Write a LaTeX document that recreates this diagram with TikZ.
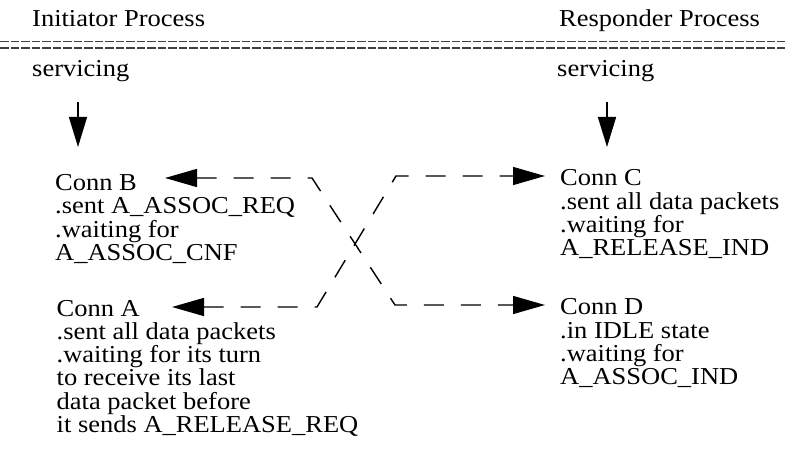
\documentclass[tikz,border=0pt]{standalone}
\usepackage{fontspec}
\setmainfont{Liberation Serif}[FakeStretch=1.09]
\usetikzlibrary{arrows.meta}
\newcommand\blockfont{\fontsize{24.3}{23.3}\selectfont\lineskiplimit=-20pt\relax}
\begin{document}
\begin{tikzpicture}[x=1pt,y=-1pt,
  lbl/.style={anchor=base west, inner sep=0pt, align=left, font=\blockfont},
  down/.style={-{Triangle[length=30pt,width=18pt]}, line width=1.5pt},
  link/.style={{Triangle[length=32pt,width=18pt]}-{Triangle[length=32pt,width=18pt]},
    line width=1.4pt, dash pattern=on 20pt off 17pt},
  rule/.style={line width=1.5pt, black!75, dash pattern=on 8.5pt off 2pt}]
\useasboundingbox (0,0) rectangle (785,454);

% headings and the divider
\node[lbl] (init) at (32,27) {Initiator Process};
\node[lbl] (resp) at (559,27) {Responder Process};
\coordinate (r1a) at (0,41.3);  \coordinate (r1b) at (785,41.3);
\coordinate (r2a) at (0,48);    \coordinate (r2b) at (785,48);
\draw[rule] (r1a) -- (r1b);
\draw[rule] (r2a) -- (r2b);

% servicing states
\node[lbl] (servL) at (32,77) {servicing};
\node[lbl] (servR) at (557,77) {servicing};

% connection blocks (placed by the baseline of their last line)
\node[lbl] (connB) at (55,260.4) {Conn B\\.sent A\_ASSOC\_REQ\\.waiting for\\A\_ASSOC\_CNF};
\node[lbl] (connA) at (56.5,432.5) {Conn A\\.sent all data packets\\.waiting for its turn\\to receive its last\\data packet before\\it sends A\_RELEASE\_REQ};
\node[lbl] (connC) at (560,255.9) {Conn C\\.sent all data packets\\.waiting for\\A\_RELEASE\_IND};
\node[lbl] (connD) at (560,384.9) {Conn D\\.in IDLE state\\.waiting for\\A\_ASSOC\_IND};

% arrow end points
\coordinate (sL) at (78,102);  \coordinate (bTop) at (78,147);
\coordinate (sR) at (607,102); \coordinate (cTop) at (607,147);
\coordinate (bIn) at (165,178); \coordinate (aIn) at (172,307);
\coordinate (cIn) at (545,176); \coordinate (dIn) at (545,305);

\draw[down] (sL) -- (bTop);
\draw[down] (sR) -- (cTop);

% crossing exchanges
\draw[link] (bIn) -- (312,178) -- (395,305) -- (dIn);
\draw[link] (aIn) -- (317,307) -- (396,176) -- (cIn);
\end{tikzpicture}
\end{document}
